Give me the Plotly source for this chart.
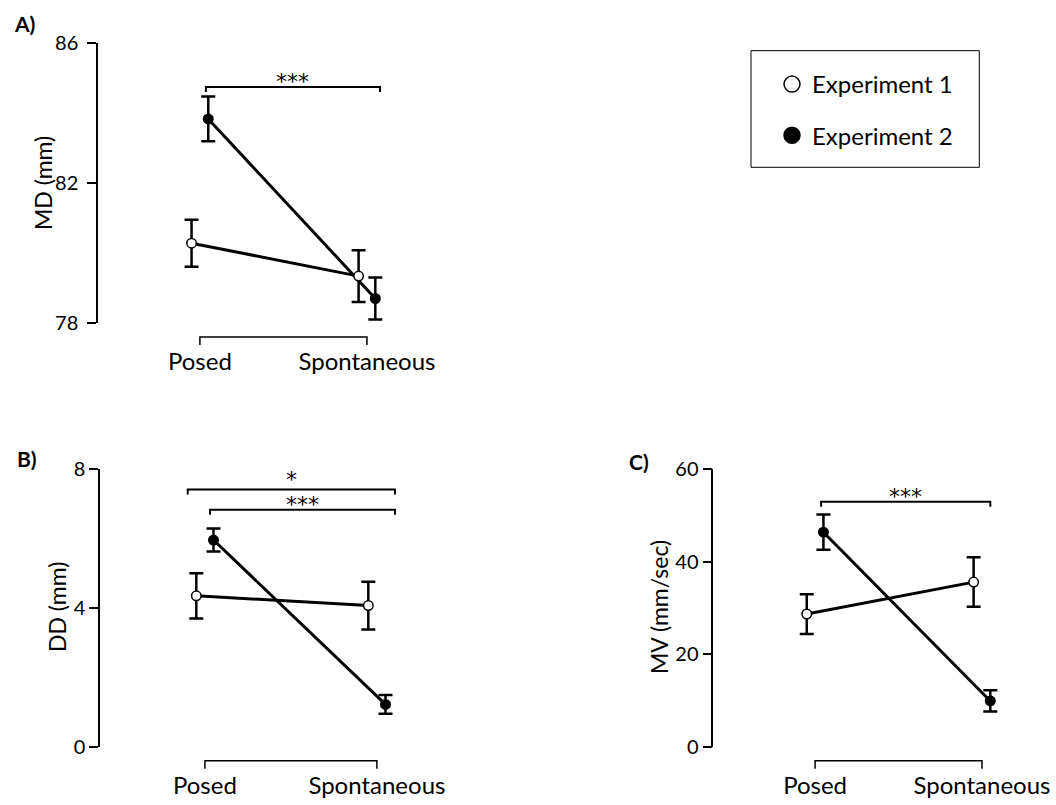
import plotly.graph_objects as go

# ---------------------------------------------------------------- data
categories = ["Posed", "Spontaneous"]
experiments = ["Experiment 1", "Experiment 2"]

# MD (mm): means and error half-widths per condition
md_exp1 = [80.28, 79.34]
md_exp1_err = [0.67, 0.74]
md_exp2 = [83.83, 78.70]
md_exp2_err = [0.64, 0.60]

# DD (mm)
dd_exp1 = [4.35, 4.07]
dd_exp1_err = [0.65, 0.69]
dd_exp2 = [5.96, 1.22]
dd_exp2_err = [0.33, 0.27]

# MV (mm/sec)
mv_exp1 = [28.7, 35.6]
mv_exp1_err = [4.3, 5.35]
mv_exp2 = [46.4, 9.9]
mv_exp2_err = [3.8, 2.3]

md_ticks = [78, 82, 86]
dd_ticks = [0, 4, 8]
mv_ticks = [0, 20, 40, 60]

# significance brackets: (stars, x start, x end, bracket level)
md_sig = [("***", 0.036, 1.078, 84.74)]
dd_sig = [("*", -0.10, 1.105, 7.42), ("***", 0.03, 1.105, 6.83)]
mv_sig = [("***", 0.036, 1.05, 53.0)]

# ---------------------------------------------------------------- style
W, H = 1056, 805
FONT = "Lato"
STAR_FONT = "DejaVu Sans"
X_RANGE = [-0.61, 1.15]
DODGE = 0.05          # horizontal offset between the two experiments
MARKER_FILL = {"Experiment 1": "white", "Experiment 2": "black"}


def fx(px):
    return px / W


def fy(py):
    return 1 - py / H


panels = [
    dict(sfx="", label="A)", label_pos=(24, 23), title="MD (mm)",
         title_pos=(43, 183), tick_standoff=5,
         xdom=(98, 392), ydom=(43, 323), yrange=[78, 86], ticks=md_ticks,
         series={"Experiment 1": (md_exp1, md_exp1_err),
                 "Experiment 2": (md_exp2, md_exp2_err)},
         sig=md_sig),
    dict(sfx="2", label="B)", label_pos=(27, 458), title="DD (mm)",
         title_pos=(57, 607), tick_standoff=0,
         xdom=(100, 402.7), ydom=(469.3, 746.7), yrange=[0, 8], ticks=dd_ticks,
         series={"Experiment 1": (dd_exp1, dd_exp1_err),
                 "Experiment 2": (dd_exp2, dd_exp2_err)},
         sig=dd_sig),
    dict(sfx="3", label="C)", label_pos=(639, 461), title="MV (mm/sec)",
         title_pos=(659, 607), tick_standoff=0,
         xdom=(713.3, 1007), ydom=(469.3, 746.7), yrange=[0, 60], ticks=mv_ticks,
         series={"Experiment 1": (mv_exp1, mv_exp1_err),
                 "Experiment 2": (mv_exp2, mv_exp2_err)},
         sig=mv_sig),
]

fig = go.Figure()
shapes = []
annotations = []
layout_axes = {}

for p in panels:
    xa, ya = "x" + p["sfx"], "y" + p["sfx"]
    dom_h = p["ydom"][1] - p["ydom"][0]
    px_per_unit = dom_h / (p["yrange"][1] - p["yrange"][0])
    idx = list(range(len(categories)))

    # Experiment 2 first so the open markers of Experiment 1 sit on top
    for name, dx in (("Experiment 2", DODGE), ("Experiment 1", -DODGE)):
        vals, errs = p["series"][name]
        fig.add_trace(go.Scatter(
            x=[i + dx for i in idx], y=vals, name=name,
            mode="lines+markers",
            line=dict(color="black", width=3),
            marker=dict(size=9.5, color=MARKER_FILL[name],
                        line=dict(color="black", width=1.5)),
            error_y=dict(type="data", array=errs, visible=True,
                         color="black", thickness=2.5, width=7),
            xaxis=xa, yaxis=ya, showlegend=False, hoverinfo="skip",
        ))

    layout_axes["xaxis" + p["sfx"]] = dict(
        domain=[fx(p["xdom"][0]), fx(p["xdom"][1])], range=X_RANGE,
        anchor=ya, tickvals=idx, ticktext=categories, ticks="",
        showline=False, showgrid=False, zeroline=False,
        ticklabelstandoff=22, tickfont=dict(size=24, color="black"),
    )
    layout_axes["yaxis" + p["sfx"]] = dict(
        domain=[fy(p["ydom"][1]), fy(p["ydom"][0])], range=p["yrange"],
        anchor=xa, tickvals=p["ticks"], ticks="outside", ticklen=9,
        tickwidth=1.5, tickcolor="black", showline=True, linewidth=1.5,
        linecolor="black", showgrid=False, zeroline=False,
        ticklabelstandoff=p["tick_standoff"],
        tickfont=dict(size=20, color="black"),
    )

    # y-axis title
    annotations.append(dict(
        x=fx(p["title_pos"][0]), y=fy(p["title_pos"][1]), xref="paper",
        yref="paper", text=p["title"], textangle=-90, showarrow=False,
        xanchor="center", yanchor="middle",
        font=dict(size=23, color="black"),
    ))

    # category bracket under the plot
    y0 = -14 / dom_h
    y1 = -22 / dom_h
    shapes.append(dict(
        type="path", xref=xa, yref=ya + " domain",
        path=f"M 0,{y1} L 0,{y0} L 1,{y0} L 1,{y1}",
        line=dict(color="black", width=1.5),
    ))

    # significance brackets
    drop = 5 / px_per_unit
    for stars, x0, x1, lvl in p["sig"]:
        shapes.append(dict(
            type="path", xref=xa, yref=ya,
            path=f"M {x0},{lvl - drop} L {x0},{lvl} L {x1},{lvl} L {x1},{lvl - drop}",
            line=dict(color="black", width=2),
        ))
        annotations.append(dict(
            x=(x0 + x1) / 2, y=lvl, xref=xa, yref=ya, text=stars,
            showarrow=False, yanchor="bottom",
            yshift=-5 if stars == "*" else -9,
            font=dict(family=STAR_FONT, size=22, color="black"),
        ))

    annotations.append(dict(
        x=fx(p["label_pos"][0]), y=fy(p["label_pos"][1]), xref="paper",
        yref="paper", text=f"<b>{p['label']}</b>", showarrow=False,
        xanchor="center", yanchor="middle",
        font=dict(size=21, color="black"),
    ))

# legend entries (marker only)
for name in experiments:
    fig.add_trace(go.Scatter(
        x=[None], y=[None], name=name, mode="markers",
        legendgroup=name,
        marker=dict(size=20, color=MARKER_FILL[name],
                    line=dict(color="black", width=1.5)),
        xaxis="x", yaxis="y", showlegend=True,
    ))

# legend frame
shapes.append(dict(
    type="rect", xref="paper", yref="paper",
    x0=fx(751), x1=fx(979.3), y0=fy(167.3), y1=fy(50.7),
    line=dict(color="black", width=1), fillcolor="rgba(0,0,0,0)",
))

fig.update_layout(
    width=W, height=H,
    margin=dict(l=0, r=0, t=0, b=0, autoexpand=False),
    paper_bgcolor="white", plot_bgcolor="white",
    font=dict(family=FONT, color="black"),
    shapes=shapes, annotations=annotations,
    showlegend=True,
    legend=dict(x=fx(772), y=fy(62), xanchor="left", yanchor="top",
                font=dict(size=24, color="black"), tracegroupgap=17,
                traceorder="grouped", bgcolor="rgba(0,0,0,0)",
                borderwidth=0),
    **layout_axes,
)

fig.write_html("out.html")
